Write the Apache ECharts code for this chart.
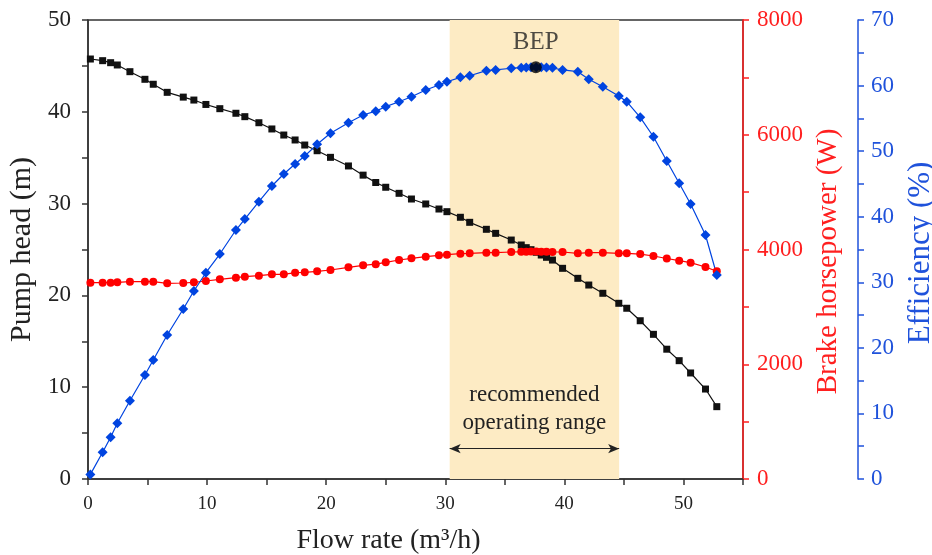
<!DOCTYPE html>
<html>
<head>
<meta charset="utf-8">
<script src="https://cdn.jsdelivr.net/npm/echarts@6/dist/echarts.min.js"></script>
<style>
  html, body { margin: 0; padding: 0; background: #fff; }
  #chart { width: 932px; height: 555px; }
</style>
</head>
<body>
<div id="chart"></div>
<script>
// flow rate (m3/h), shared by all three curves
var flow = [0.2, 1.23, 1.9, 2.46, 3.52, 4.78, 5.48, 6.65, 8.0, 8.89, 9.9, 11.07,
    12.42, 13.17, 14.35, 15.44, 16.44, 17.39, 18.2, 19.24, 20.36, 21.87, 23.1, 24.16,
    25.0, 26.12, 27.16, 28.36, 29.47, 30.14, 31.27, 32.05, 33.45, 34.23, 35.54,
    36.38, 36.8, 37.2, 37.64, 38.06, 38.5, 39.0, 39.85,
    41.13, 42.05, 43.23, 44.57, 45.24, 46.37, 47.48, 48.6, 49.64, 50.6, 51.85, 52.8];

var head = [45.75, 45.57, 45.35, 45.1, 44.37, 43.54, 43.0, 42.12, 41.6, 41.28, 40.8, 40.34,
    39.84, 39.47, 38.81, 38.13, 37.47, 36.93, 36.38, 35.76, 35.04, 34.1, 33.1, 32.3,
    31.78, 31.12, 30.5, 29.96, 29.41, 29.12, 28.51, 27.96, 27.2, 26.76, 26.03,
    25.49, 25.2, 24.98, 24.7, 24.4, 24.15, 23.85, 22.95,
    21.86, 21.13, 20.23, 19.14, 18.6, 17.24, 15.76, 14.14, 12.89, 11.55, 9.8, 7.88];

var power = [3421, 3421, 3421, 3428, 3439, 3439, 3439, 3410, 3416, 3428, 3451, 3480,
    3509, 3527, 3544, 3567, 3567, 3596, 3602, 3620, 3643, 3689, 3724, 3745,
    3777, 3817, 3846, 3875, 3899, 3909, 3927, 3933, 3944, 3944, 3956,
    3960, 3962, 3963, 3963, 3962, 3960, 3958, 3956,
    3933, 3944, 3944, 3933, 3933, 3921, 3887, 3843, 3805, 3770, 3695, 3620];

var efficiency = [0.7, 4.07, 6.36, 8.49, 11.94, 15.86, 18.15, 21.96, 25.93, 28.67, 31.46, 34.31,
    37.97, 39.65, 42.29, 44.69, 46.52, 48.04, 49.26, 51.04, 52.72, 54.34, 55.51, 56.1,
    56.78, 57.54, 58.3, 59.33, 60.09, 60.59, 61.26, 61.5, 62.27, 62.38, 62.64,
    62.73, 62.75, 62.78, 62.8, 62.78, 62.75, 62.7, 62.38,
    62.12, 60.96, 59.83, 58.41, 57.54, 55.16, 52.2, 48.5, 45.1, 41.94, 37.21, 31.11];

// best efficiency point and recommended range
var bep = [37.6, 62.8];
var rangeFlow = [30.37, 44.6];
var arrowHead = 3.3;

var serif = 'Liberation Serif';
var black = '#222';
var red = '#ff1f1f';
var blue = '#1f52db';

function pairs(ys) {
    return flow.map(function (f, i) { return [f, ys[i]]; });
}
function every(step) {
    return function (v) { return v % step === 0 ? v : ''; };
}

var chart = echarts.init(document.getElementById('chart'));

var option = {
    animation: false,
    backgroundColor: '#fff',
    grid: {
        left: 88, right: 189, top: 20, bottom: 76,
        outerBoundsMode: 'none', containLabel: false,
        show: true, borderColor: '#333', borderWidth: 1.5
    },
    xAxis: {
        type: 'value', min: 0, max: 55, interval: 5,
        name: 'Flow rate (m³/h)', nameLocation: 'middle', nameGap: 48,
        nameTextStyle: { fontFamily: serif, fontSize: 28, color: black, padding: [0, 54, 0, 0] },
        axisLine: { lineStyle: { color: '#333', width: 1.5 } },
        axisTick: { length: 6, lineStyle: { color: '#333', width: 1.5 } },
        axisLabel: { formatter: every(10), fontFamily: serif, fontSize: 19, color: black, margin: 16 },
        splitLine: { show: false }
    },
    yAxis: [{
        type: 'value', position: 'left', min: 0, max: 50, interval: 5,
        name: 'Pump head (m)', nameLocation: 'middle', nameGap: 40, nameRotate: 90,
        nameTextStyle: { fontFamily: serif, fontSize: 30, color: black },
        axisLine: { show: true, lineStyle: { color: '#333', width: 1.5 } },
        axisTick: { show: true, length: 6, lineStyle: { color: '#333', width: 1.5 } },
        axisLabel: { formatter: every(10), fontFamily: serif, fontSize: 23, color: black, margin: 17 },
        splitLine: { show: false }
    }, {
        type: 'value', position: 'right', offset: 0, min: 0, max: 8000, interval: 1000,
        name: 'Brake horsepower (W)', nameLocation: 'middle', nameGap: 70, nameRotate: 90,
        nameTextStyle: { fontFamily: serif, fontSize: 29, color: red, padding: [0, 24, 0, 0] },
        axisLine: { show: true, lineStyle: { color: red, width: 1.5 } },
        axisTick: { show: true, length: 6, lineStyle: { color: red, width: 1.5 } },
        axisLabel: { formatter: every(2000), fontFamily: serif, fontSize: 23, color: red, margin: 14 },
        splitLine: { show: false }
    }, {
        type: 'value', position: 'right', offset: 115, min: 0, max: 70, interval: 5,
        name: 'Efficiency (%)', nameLocation: 'middle', nameGap: 34, nameRotate: 90,
        nameTextStyle: { fontFamily: serif, fontSize: 31, color: blue, padding: [0, 7, 0, 0] },
        axisLine: { show: true, lineStyle: { color: blue, width: 1.5 } },
        axisTick: { show: true, length: 6, lineStyle: { color: blue, width: 1.5 } },
        axisLabel: { formatter: every(10), fontFamily: serif, fontSize: 23, color: blue, margin: 13 },
        splitLine: { show: false }
    }],
    series: [{
        // shaded operating range and its arrow
        name: 'range', type: 'line', data: [], z: 1, silent: true,
        markArea: {
            silent: true,
            itemStyle: { color: '#fdebc4' },
            data: [[{ xAxis: rangeFlow[0] }, { xAxis: rangeFlow[1] }]]
        },
        markLine: {
            silent: true,
            symbol: ['arrow', 'arrow'],
            symbolSize: [7, 11],
            lineStyle: { color: '#222', width: 1.2, type: 'solid' },
            label: {
                position: 'middle', distance: 12,
                formatter: 'recommended\noperating range',
                fontFamily: serif, fontSize: 23, lineHeight: 28, color: '#222'
            },
            data: [[{ coord: [rangeFlow[0], arrowHead] }, { coord: [rangeFlow[1], arrowHead] }]]
        }
    }, {
        name: 'Pump head', type: 'line', yAxisIndex: 0, z: 3,
        data: pairs(head),
        symbol: 'rect', symbolSize: 7,
        itemStyle: { color: '#111' },
        lineStyle: { color: '#111', width: 1.2 }
    }, {
        name: 'Brake horsepower', type: 'line', yAxisIndex: 1, z: 3,
        data: pairs(power),
        symbol: 'circle', symbolSize: 8,
        itemStyle: { color: '#ff0000' },
        lineStyle: { color: '#ff0000', width: 1.2 }
    }, {
        name: 'Efficiency', type: 'line', yAxisIndex: 2, z: 3,
        data: pairs(efficiency),
        symbol: 'diamond', symbolSize: 10,
        itemStyle: { color: '#0044e0' },
        lineStyle: { color: '#0044e0', width: 1.2 }
    }, {
        name: 'BEP', type: 'scatter', yAxisIndex: 2, z: 4,
        data: [bep],
        symbol: 'circle', symbolSize: 12,
        itemStyle: { color: '#000' },
        label: {
            show: true, position: 'top', distance: 6, formatter: 'BEP',
            fontFamily: serif, fontSize: 25, color: '#222'
        }
    }]
};

chart.setOption(option);
</script>
</body>
</html>
